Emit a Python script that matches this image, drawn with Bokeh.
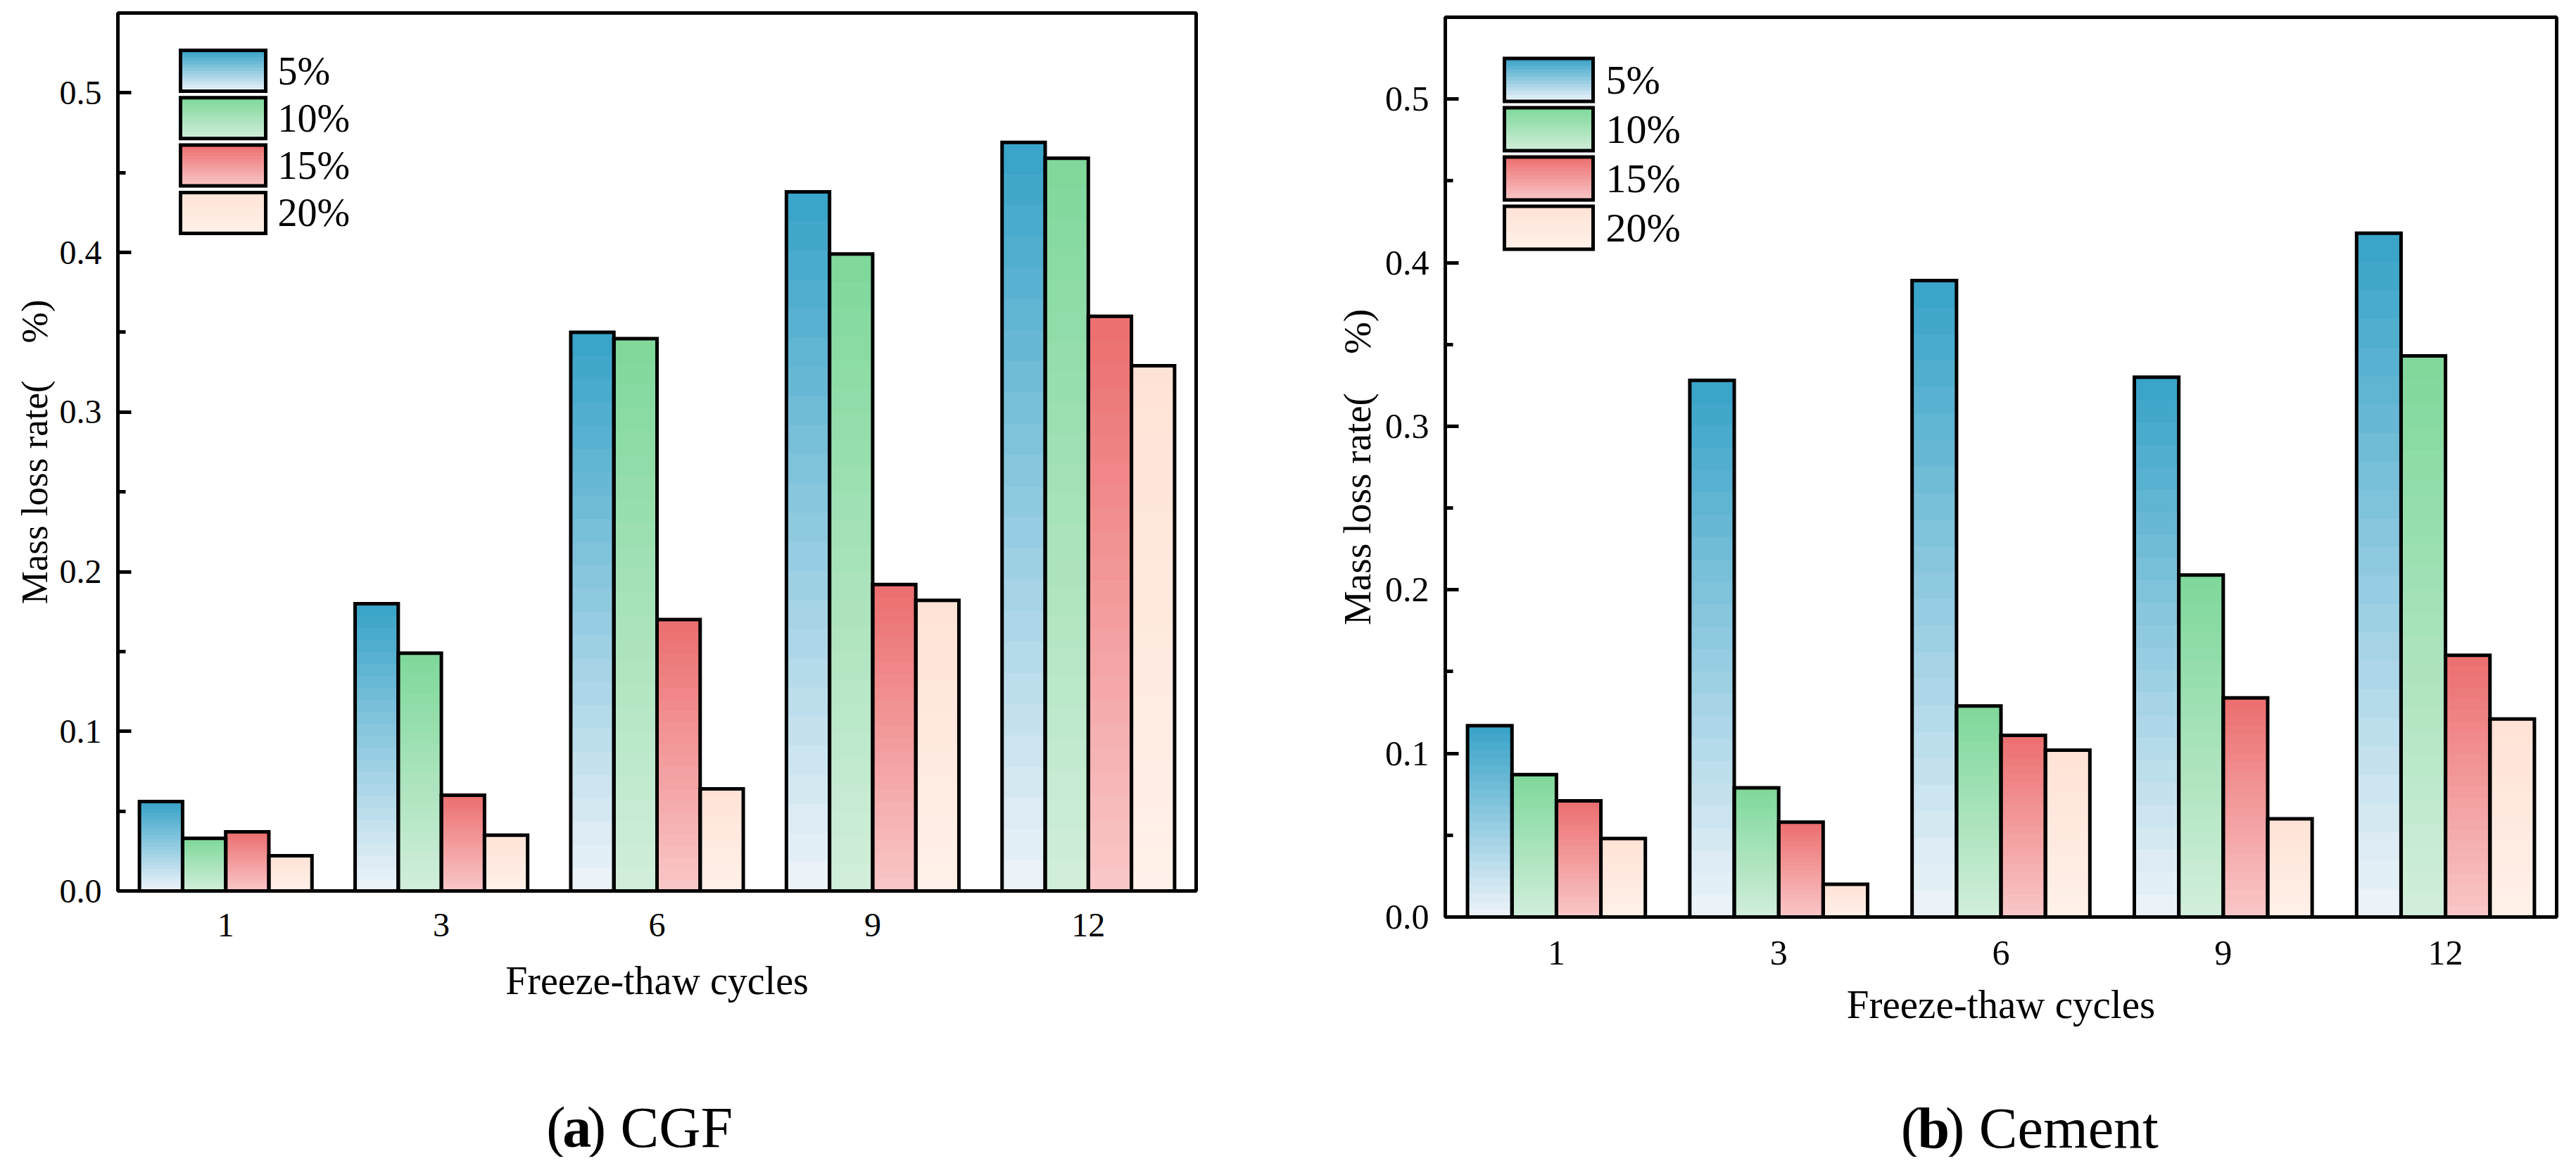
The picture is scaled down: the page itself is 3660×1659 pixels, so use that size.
from bokeh.plotting import figure
from bokeh.models import (FactorRange, Range1d, ColumnDataSource, SingleIntervalTicker,
                          PrintfTickFormatter)
from bokeh.transform import dodge
from bokeh.layouts import row, column
from bokeh.embed import file_html
from bokeh.resources import INLINE
from bokeh.core.properties import value

# ---------------- data ----------------
cycles = ["1", "3", "6", "9", "12"]
series = ["5%", "10%", "15%", "20%"]

cgf_5 = [0.056, 0.180, 0.350, 0.438, 0.469]
cgf_10 = [0.033, 0.149, 0.346, 0.399, 0.459]
cgf_15 = [0.037, 0.060, 0.170, 0.192, 0.360]
cgf_20 = [0.022, 0.035, 0.064, 0.182, 0.329]

cem_5 = [0.117, 0.328, 0.389, 0.330, 0.418]
cem_10 = [0.087, 0.079, 0.129, 0.209, 0.343]
cem_15 = [0.071, 0.058, 0.111, 0.134, 0.160]
cem_20 = [0.048, 0.020, 0.102, 0.060, 0.121]

x_title = "Freeze-thaw cycles"
y_title = "Mass loss rate(\u3000%)"
caption_a = ["(", "a", ") CGF"]
caption_b = ["(", "b", ") Cement"]
Y_MAX = 0.55

# ---------------- style ----------------
top_colors = ["#36A2C8", "#7ED89A", "#EC6E6F", "#FFE2D6"]
bottom_colors = ["#EFF4F9", "#D2EEDB", "#F9C8C9", "#FFF1E9"]
offsets = [-0.3, -0.1, 0.1, 0.3]
BAR_W = 0.2
NSEG = 24
FONT = "Liberation Serif"
LW = 5
FIG_W = 1822
MAIN_H = 1490
CAP_H = 153


def hexrgb(h):
    return tuple(int(h[i:i + 2], 16) for i in (1, 3, 5))


def mix(c0, c1, t):
    a, b = hexrgb(c0), hexrgb(c1)
    return "#%02x%02x%02x" % tuple(round(x + (y - x) * t) for x, y in zip(a, b))


def panel(vals, fw, fh, bl, bt, tick_fs, title_fs, ylab_fs, leg_fs,
          tick_stand, title_stand, ylab_stand, leg):
    br = FIG_W - fw - bl
    bb = MAIN_H - fh - bt
    p = figure(width=FIG_W, height=MAIN_H, x_range=FactorRange(*cycles, range_padding=0),
               y_range=Range1d(0, Y_MAX), output_backend="svg", toolbar_location=None,
               min_border_left=bl, min_border_right=br, min_border_top=bt, min_border_bottom=bb,
               background_fill_color="white", border_fill_color="white")
    p.xgrid.visible = False
    p.ygrid.visible = False
    p.outline_line_color = "black"
    p.outline_line_width = LW
    p.outline_line_alpha = 1

    # gradient fills
    for si in range(4):
        xs, bots, tops, cols = [], [], [], []
        for cat, v in zip(cycles, vals[si]):
            for k in range(NSEG):
                xs.append(cat)
                bots.append(v * k / NSEG)
                tops.append(v * (k + 1) / NSEG)
                cols.append(mix(bottom_colors[si], top_colors[si], (k + 0.5) / NSEG))
        src = ColumnDataSource(dict(x=xs, bottom=bots, top=tops, color=cols))
        p.vbar(x=dodge("x", offsets[si], range=p.x_range), bottom="bottom", top="top",
               width=BAR_W, source=src, fill_color="color", line_color="color", line_width=1)
    # outlines
    for si in range(4):
        src = ColumnDataSource(dict(x=cycles, v=vals[si]))
        p.vbar(x=dodge("x", offsets[si], range=p.x_range), bottom=0, top="v", width=BAR_W,
               source=src, fill_alpha=0, line_color="black", line_width=LW, line_join="miter")

    # legend: positioned in frame pixels, converted to axis units
    ncat = len(cycles)
    lx0, lx1, ltop, lh, lstep, ltx = leg
    xl = lx0 / fw * ncat - 0.5
    xr = lx1 / fw * ncat - 0.5
    xt = ltx / fw * ncat - 0.5
    nl = NSEG // 2
    for si in range(4):
        top_px = ltop + si * lstep
        b0, t0, cols = [], [], []
        for k in range(nl):
            yb = top_px + lh - lh * k / nl
            yt = top_px + lh - lh * (k + 1) / nl
            b0.append((1 - yb / fh) * Y_MAX)
            t0.append((1 - yt / fh) * Y_MAX)
            cols.append(mix(bottom_colors[si], top_colors[si], (k + 0.5) / nl))
        s = ColumnDataSource(dict(c=[cycles[0]] * nl, b=b0, t=t0, col=cols))
        p.quad(left=dodge("c", xl, range=p.x_range), right=dodge("c", xr, range=p.x_range),
               bottom="b", top="t", fill_color="col", line_color="col", line_width=1, source=s)
        s2 = ColumnDataSource(dict(c=[cycles[0]], b=[(1 - (top_px + lh) / fh) * Y_MAX],
                                   t=[(1 - top_px / fh) * Y_MAX],
                                   ym=[(1 - (top_px + lh / 2) / fh) * Y_MAX], lab=[series[si]]))
        p.quad(left=dodge("c", xl, range=p.x_range), right=dodge("c", xr, range=p.x_range),
               bottom="b", top="t", fill_alpha=0, line_color="black", line_width=LW,
               line_join="miter", source=s2)
        p.text(x=dodge("c", xt, range=p.x_range), y="ym", text="lab", source=s2,
               text_font=value(FONT), text_font_size=f"{leg_fs}px", text_baseline="middle",
               text_align="left", text_color="black")

    # axes
    ya = p.yaxis[0]
    ya.ticker = SingleIntervalTicker(interval=0.1, num_minor_ticks=2)
    ya.formatter = PrintfTickFormatter(format="%.1f")
    ya.major_tick_in = 19
    ya.major_tick_out = 0
    ya.minor_tick_in = 11
    ya.minor_tick_out = 0
    ya.major_tick_line_width = LW
    ya.minor_tick_line_width = LW
    ya.axis_line_width = LW
    ya.major_label_standoff = 23
    ya.axis_label = y_title
    ya.axis_label_standoff = ylab_stand
    ya.axis_label_text_font_size = f"{ylab_fs}px"

    xa = p.xaxis[0]
    xa.major_tick_in = 0
    xa.major_tick_out = 0
    xa.axis_line_width = LW
    xa.major_label_standoff = tick_stand
    xa.axis_label = x_title
    xa.axis_label_standoff = title_stand
    xa.axis_label_text_font_size = f"{title_fs}px"

    for ax in (xa, ya):
        ax.major_label_text_font = FONT
        ax.major_label_text_font_size = f"{tick_fs}px"
        ax.major_label_text_color = "black"
        ax.axis_label_text_font = FONT
        ax.axis_label_text_font_style = "normal"
        ax.axis_label_text_color = "black"
        ax.axis_line_color = "black"
        ax.major_tick_line_color = "black"
        ax.minor_tick_line_color = "black"
    return p


def caption(parts, x0, base, cfs):
    c = figure(width=FIG_W, height=CAP_H, x_range=Range1d(0, FIG_W), y_range=Range1d(0, CAP_H),
               output_backend="svg", toolbar_location=None, min_border=0,
               x_axis_location=None, y_axis_location=None,
               background_fill_color="white", border_fill_color="white")
    c.grid.visible = False
    c.outline_line_color = None
    wa = 0.333 * cfs
    wb = (0.5 if parts[1] == "a" else 0.556) * cfs
    for txt, dx, style in ((parts[0], 0, "normal"), (parts[1], wa, "bold"),
                           (parts[2], wa + wb, "normal")):
        c.text(x=[x0 + dx], y=[base], text=[txt], text_font=value(FONT),
               text_font_size=f"{cfs}px", text_font_style=style, text_baseline="alphabetic",
               text_align="left", text_color="black")
    return c


p1 = panel([cgf_5, cgf_10, cgf_15, cgf_20], fw=1532, fh=1247, bl=167, bt=18,
           tick_fs=48, title_fs=56, ylab_fs=53, leg_fs=56, tick_stand=32, title_stand=29,
           ylab_stand=4, leg=(89, 210, 53, 58, 67.3, 227))
p2 = panel([cem_5, cem_10, cem_15, cem_20], fw=1579, fh=1278, bl=231, bt=24,
           tick_fs=50, title_fs=57, ylab_fs=55, leg_fs=58, tick_stand=34, title_stand=22,
           ylab_stand=6, leg=(84, 210, 58.5, 61, 70, 228))
c1 = caption(caption_a, 724, 42, 82)
c2 = caption(caption_b, 747, 41, 82)

layout = row(column(p1, c1), column(p2, c2))
open("out.html", "w").write(file_html(layout, INLINE))
